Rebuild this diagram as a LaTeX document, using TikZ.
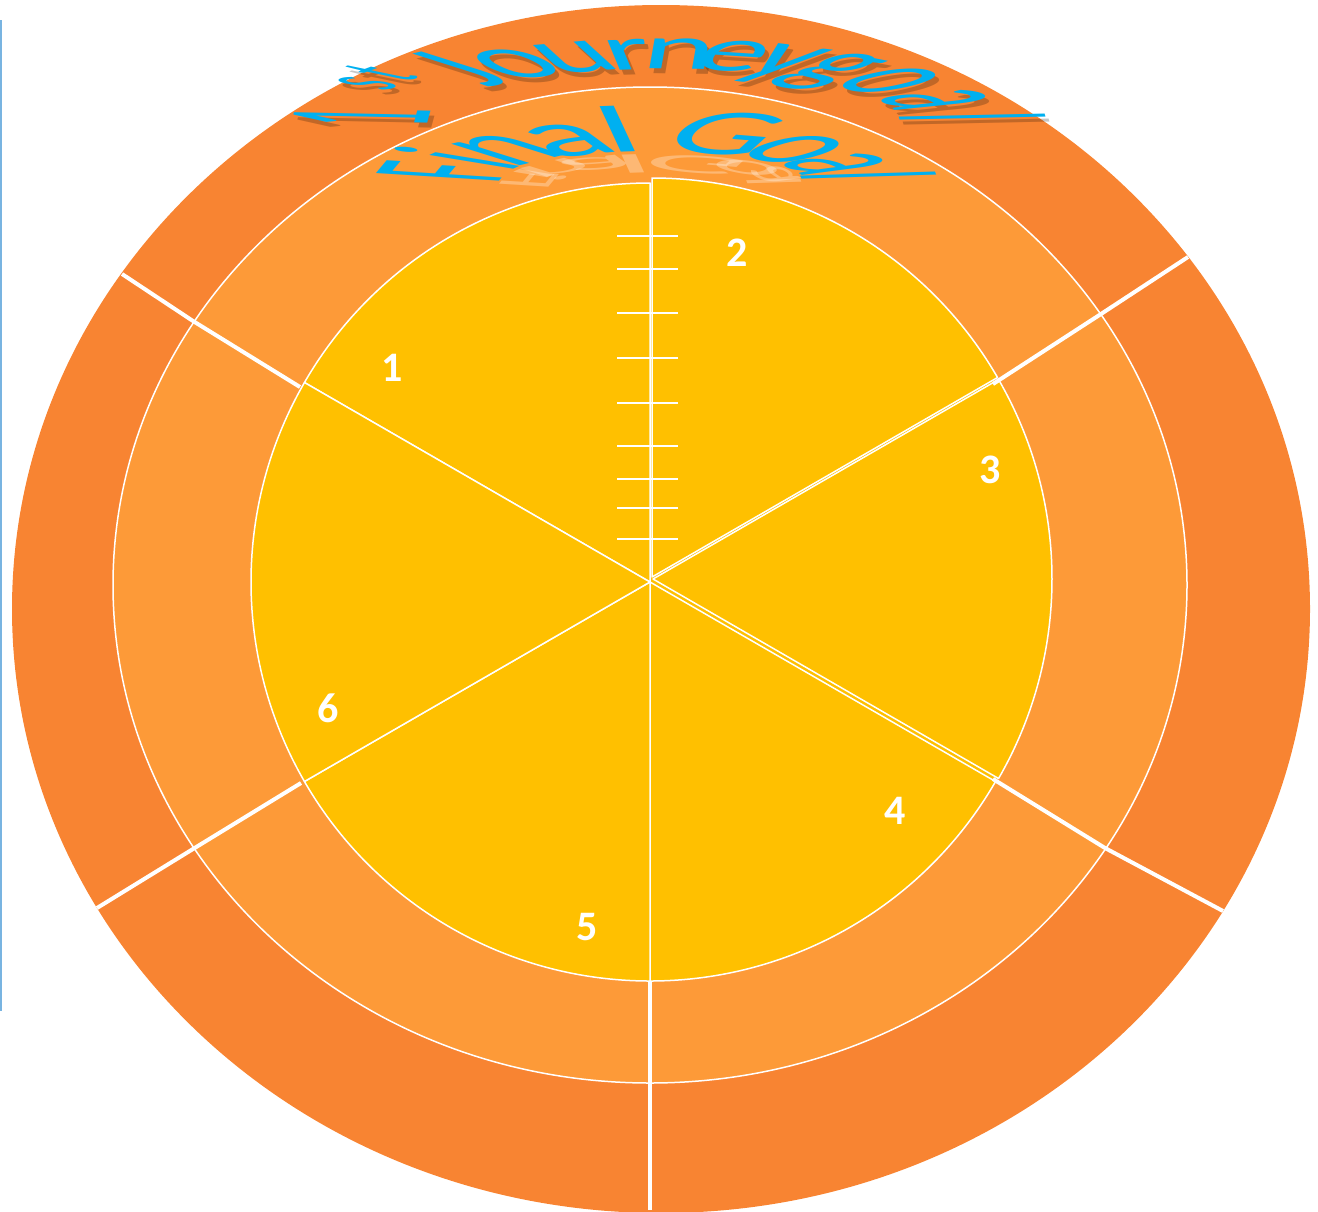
\documentclass[tikz,border=0pt]{standalone}
\usepackage{fontspec}
\setmainfont{Carlito}
\definecolor{ringout}{RGB}{248,132,50}
\definecolor{ringmid}{RGB}{253,154,56}
\definecolor{pie}{RGB}{255,192,0}
\definecolor{goalblue}{RGB}{0,176,240}
\definecolor{edgeblue}{RGB}{120,180,225}

\begin{document}
\begin{tikzpicture}[
  x=0.5pt,y=-0.5pt,
  slice/.style={fill=pie,draw=white,line width=0.75pt,line join=round},
  divider/.style={white,line width=2pt},
  tick/.style={white,line width=1pt},
  num/.style={text=white,font=\bfseries\fontsize{21}{21}\selectfont,inner sep=0pt},
  glyph/.style={transform shape,anchor=base,inner sep=0pt,outer sep=0pt},
]
\useasboundingbox (0,0) rectangle (1318,1211);

% rings
\fill[ringout] (661,609) ellipse [x radius=649,y radius=604];
\filldraw[fill=ringmid,draw=white,line width=0.75pt] (650,585) ellipse [x radius=537,y radius=498];
\fill[pie] (650,582) circle [radius=399];

% six pie slices (start angle / nudge)
\foreach \a/\dx/\dy [count=\i] in {90/0/0,30/2/-5,-30/3/-3,-90/0/0,-150/0/0,150/0/0}
  \filldraw[slice,shift={(\dx,\dy)}] (650,582) -- ++(-\a:399)
    arc[start angle=-\a,end angle=-\a-60,radius=399] -- cycle;

% dividers through the two outer rings
\coordinate (o150) at (122,274);  \coordinate (m150) at (193,321);  \coordinate (i150) at (300,387);
\coordinate (o30)  at (1188,257); \coordinate (m30)  at (1101,314); \coordinate (i30)  at (993,384);
\coordinate (o210) at (97,908);   \coordinate (m210) at (193,849);  \coordinate (i210) at (301,783);
\coordinate (o330) at (1223,911); \coordinate (m330) at (1105,848); \coordinate (i330) at (993,779);
\coordinate (o270) at (650,1210); \coordinate (m270) at (650,1082); \coordinate (i270) at (650,981);
\foreach \d in {150,30,210,330,270}
  \draw[divider] (o\d) -- (m\d) -- (i\d);

% scale on the upper spoke
\foreach \y in {236,269,313,358,403,446,479,508,539}
  \draw[tick] (617,\y) -- (678,\y);

% slice numbers
\node[num] (n1) at (392,368) {1};
\node[num] (n2) at (737,253) {2};
\node[num] (n3) at (990,470) {3};
\node[num] (n4) at (895,811) {4};
\node[num] (n5) at (587,927) {5};
\node[num] (n6) at (328,708) {6};

% arched title, outer ring (letter/angle/size/raise)
\foreach \ch/\th/\fsz/\rsz [count=\i] in {1/176/107.5/0,s/152/64.5/35.5,t/145/64.5/35.5,
    J/133/107.5/0,o/121/107.5/0,u/108/107.5/0,r/97/107.5/0,n/87/107.5/0,e/76/107.5/0,
    y/65/107.5/0,g/53/107.5/0,o/38/107.5/0,a/19/107.5/0,l/4/107.5/0}{
  \pgfmathsetmacro\ma{0.64*sin(\th)}
  \pgfmathsetmacro\mb{-0.165*cos(\th)}
  \pgfmathsetmacro\mc{0.98*cos(\th)}
  \pgfmathsetmacro\md{0.29*sin(\th)}
  \begin{scope}[shift={({664+236*cos(\th)+4},{122-53*sin(\th)+5})},cm={\ma,\mb,\mc,\md,(0,0)}]
    \node[glyph,font=\fontsize{\fsz}{\fsz}\selectfont,text=black,text opacity=0.22] (js\i) at (0pt,\rsz pt) {\ch};
  \end{scope}
  \begin{scope}[shift={({664+236*cos(\th)},{122-53*sin(\th)})},cm={\ma,\mb,\mc,\md,(0,0)}]
    \node[glyph,font=\fontsize{\fsz}{\fsz}\selectfont,text=goalblue] (j\i) at (0pt,\rsz pt) {\ch};
  \end{scope}
}

% arched title, middle ring (letter/angle)
\foreach \ch/\th [count=\i] in {F/169.7,i/154.3,n/137.4,a/114.9,l/99,
    G/69.5,o/43.6,a/21,l/5.1}{
  \pgfmathsetmacro\ma{0.85*sin(\th)}
  \pgfmathsetmacro\mb{-0.184*cos(\th)}
  \pgfmathsetmacro\mc{cos(\th)}
  \pgfmathsetmacro\md{0.34*sin(\th)}
  \begin{scope}[shift={({652+150*cos(\th)},{180-28*sin(\th)+3})},cm={\ma,\mb,-0.4*\mc,-0.4*\md,(0,0)}]
    \node[glyph,font=\fontsize{97.5}{97.5}\selectfont,text=white,text opacity=0.3] (fr\i) at (0,0) {\ch};
  \end{scope}
  \begin{scope}[shift={({652+150*cos(\th)},{180-28*sin(\th)})},cm={\ma,\mb,\mc,\md,(0,0)}]
    \node[glyph,font=\fontsize{97.5}{97.5}\selectfont,text=goalblue] (f\i) at (0,0) {\ch};
  \end{scope}
}

% left margin rule
\draw[edgeblue,line width=1pt] (1,20) -- (1,1011);
\end{tikzpicture}
\end{document}
